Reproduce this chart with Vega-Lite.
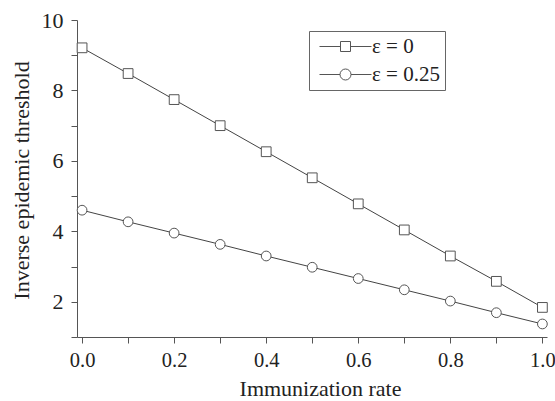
{
  "$schema": "https://vega.github.io/schema/vega-lite/v6.json",
  "width": 470,
  "height": 317,
  "autosize": "none",
  "padding": {"left": 77, "top": 20, "right": 8, "bottom": 64},
  "background": "white",
  "config": {
    "view": {"stroke": null},
    "font": "Liberation Serif",
    "axis": {
      "domainColor": "#555",
      "tickColor": "#555",
      "tickSize": 6,
      "grid": false,
      "labelColor": "#222",
      "titleColor": "#222",
      "labelFont": "Liberation Serif",
      "titleFont": "Liberation Serif",
      "labelFontSize": 22,
      "titleFontSize": 22,
      "titleFontWeight": "normal"
    },
    "legend": {"labelFont": "Liberation Serif"}
  },
  "data": {
    "values": [
      {"x": 0.0, "y": 9.21, "series": "ε = 0"},
      {"x": 0.1, "y": 8.48, "series": "ε = 0"},
      {"x": 0.2, "y": 7.74, "series": "ε = 0"},
      {"x": 0.3, "y": 7.0, "series": "ε = 0"},
      {"x": 0.4, "y": 6.26, "series": "ε = 0"},
      {"x": 0.5, "y": 5.52, "series": "ε = 0"},
      {"x": 0.6, "y": 4.78, "series": "ε = 0"},
      {"x": 0.7, "y": 4.04, "series": "ε = 0"},
      {"x": 0.8, "y": 3.3, "series": "ε = 0"},
      {"x": 0.9, "y": 2.58, "series": "ε = 0"},
      {"x": 1.0, "y": 1.84, "series": "ε = 0"},
      {"x": 0.0, "y": 4.6, "series": "ε = 0.25"},
      {"x": 0.1, "y": 4.27, "series": "ε = 0.25"},
      {"x": 0.2, "y": 3.95, "series": "ε = 0.25"},
      {"x": 0.3, "y": 3.63, "series": "ε = 0.25"},
      {"x": 0.4, "y": 3.3, "series": "ε = 0.25"},
      {"x": 0.5, "y": 2.98, "series": "ε = 0.25"},
      {"x": 0.6, "y": 2.66, "series": "ε = 0.25"},
      {"x": 0.7, "y": 2.34, "series": "ε = 0.25"},
      {"x": 0.8, "y": 2.02, "series": "ε = 0.25"},
      {"x": 0.9, "y": 1.69, "series": "ε = 0.25"},
      {"x": 1.0, "y": 1.37, "series": "ε = 0.25"}
    ]
  },
  "encoding": {
    "x": {
      "field": "x",
      "type": "quantitative",
      "scale": {"domain": [-0.011, 1.01], "nice": false, "zero": false},
      "axis": {
        "title": "Immunization rate",
        "values": [0, 0.1, 0.2, 0.3, 0.4, 0.5, 0.6, 0.7, 0.8, 0.9, 1.0],
        "labelExpr": "round(datum.value*10) % 2 == 0 ? format(datum.value, '.1f') : ''",
        "labelFontSize": 20.5,
        "labelPadding": 7,
        "titleBaseline": "alphabetic",
        "titleX": 243,
        "titleY": 58
      }
    },
    "y": {
      "field": "y",
      "type": "quantitative",
      "scale": {"domain": [1, 10], "nice": false, "zero": false},
      "axis": {
        "title": "Inverse epidemic threshold",
        "values": [1, 2, 3, 4, 5, 6, 7, 8, 9, 10],
        "labelExpr": "round(datum.value) % 2 == 0 ? format(datum.value, 'd') : ''",
        "labelPadding": 8,
        "titleX": -44,
        "titleY": 160
      }
    }
  },
  "layer": [
    {
      "mark": {"type": "line", "color": "#444", "strokeWidth": 1},
      "encoding": {"detail": {"field": "series"}}
    },
    {
      "transform": [{"filter": "datum.series === 'ε = 0'"}],
      "mark": {"type": "point", "shape": "square", "filled": true, "fill": "white", "stroke": "#555", "strokeWidth": 1, "size": 95, "opacity": 1}
    },
    {
      "transform": [{"filter": "datum.series === 'ε = 0.25'"}],
      "mark": {"type": "point", "shape": "circle", "filled": true, "fill": "white", "stroke": "#555", "strokeWidth": 1, "size": 95, "opacity": 1}
    },
    {
      "transform": [{"filter": "false"}],
      "mark": {"type": "point", "filled": false, "color": "#555", "strokeWidth": 1, "size": 100, "opacity": 1},
      "encoding": {
        "shape": {
          "field": "series",
          "type": "nominal",
          "scale": {
            "domain": ["ε = 0", "ε = 0.25"],
            "range": [
              "M-5.2,0 L-1,0 M1,0 L5.2,0 M-1,-1 L1,-1 L1,1 L-1,1 Z",
              "M-5.2,0 L-1.1,0 M1.1,0 L5.2,0 M-1.1,0 A1.1,1.1 0 1,0 1.1,0 A1.1,1.1 0 1,0 -1.1,0 Z"
            ]
          },
          "legend": {
            "title": null,
            "orient": "none",
            "legendX": 232,
            "legendY": 11,
            "padding": 5,
            "strokeColor": "#666",
            "fillColor": "white",
            "symbolSize": 100,
            "symbolOffset": 21,
            "symbolStrokeWidth": 1,
            "symbolStrokeColor": "#555",
            "symbolOpacity": 1,
            "labelFont": "Liberation Serif",
            "labelFontSize": 21,
            "labelColor": "#222",
            "labelOffset": 16,
            "rowPadding": 6
          }
        }
      }
    }
  ]
}
